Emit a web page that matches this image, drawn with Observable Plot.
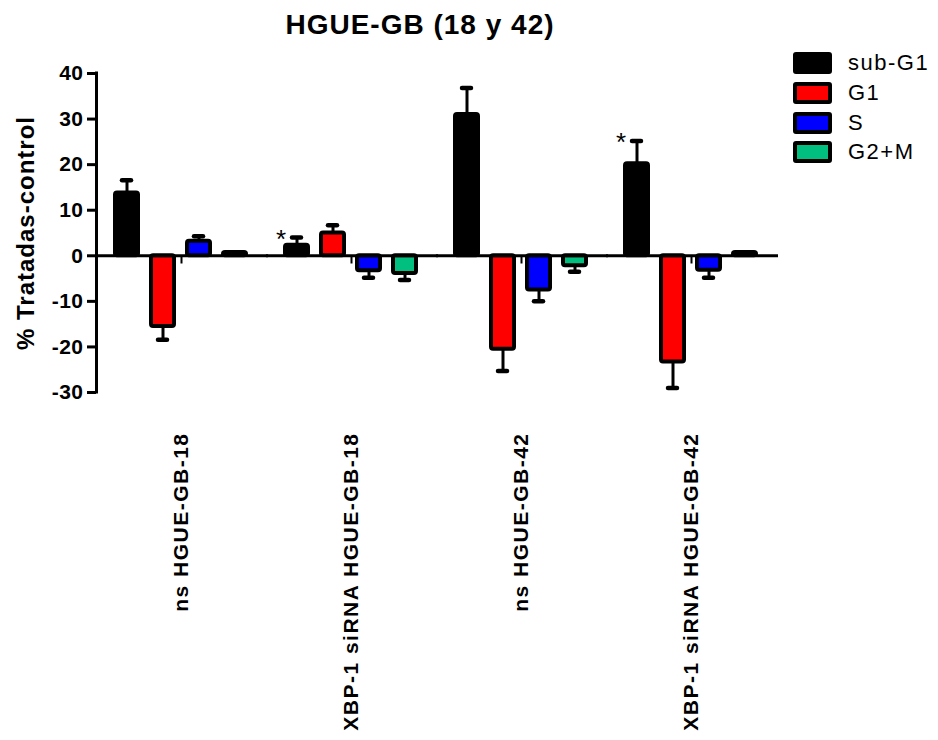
<!DOCTYPE html>
<html>
<head>
<meta charset="utf-8">
<script src="https://cdn.jsdelivr.net/npm/d3@7"></script>
<script src="https://cdn.jsdelivr.net/npm/@observablehq/plot@0.6"></script>
<style>
  html, body { margin: 0; padding: 0; background: #fff; }
  body { width: 938px; height: 740px; overflow: hidden; position: relative; font-family: "Liberation Sans", Arial, sans-serif; }
  #chart { position: absolute; left: 0; top: 0; }
  #title { position: absolute; left: 0; width: 840px; top: 9px; text-align: center; font-size: 28px; font-weight: bold; letter-spacing: 1px; color: #000; }
  #ylabel { position: absolute; left: 26px; top: 233px; transform: translate(-50%, -50%) rotate(-90deg); white-space: nowrap; font-size: 24px; font-weight: bold; letter-spacing: 1px; color: #000; }
  #legend { position: absolute; left: 793px; top: 45px; }
  .item { display: flex; align-items: center; height: 36.7px; margin-top: -7px; }
  .item:first-child { margin-top: 0; }
  .sw { width: 31px; height: 14px; border: 4px solid #000; border-radius: 3px; box-sizing: content-box; }
  .lab { margin-left: 16px; font-size: 22px; letter-spacing: 1.5px; color: #000; }
  svg text { font-family: "Liberation Sans", Arial, sans-serif; }
  g[aria-label="fx-axis tick label"] text { letter-spacing: 1.5px; }
  g[aria-label="y-axis tick label"] text { letter-spacing: 0.5px; }
</style>
</head>
<body>
<div id="chart"></div>
<div id="title">HGUE-GB (18 y 42)</div>
<div id="ylabel">% Tratadas-control</div>
<div id="legend"></div>
<script>
// ---- data ----
const groups = ["ns HGUE-GB-18", "XBP-1 siRNA HGUE-GB-18", "ns HGUE-GB-42", "XBP-1 siRNA HGUE-GB-42"];
const phases = ["sub-G1", "G1", "S", "G2+M"];
const phaseColors = ["#000000", "#ff0000", "#0000ff", "#00bf7f"];
const subG1 = [13.8, 2.3, 31.0, 20.2];
const g1 = [-15.5, 5.0, -20.5, -23.3];
const sPhase = [3.2, -3.3, -7.5, -3.2];
const g2m = [0.7, -3.9, -2.2, 0.7];
const subG1Sem = [2.8, 1.7, 5.8, 5.0];
const g1Sem = [2.9, 1.7, 4.8, 5.7];
const sSem = [1.1, 1.5, 2.5, 1.6];
const g2mSem = [0, 1.4, 1.3, 0];
const yTicks = [-30, -20, -10, 0, 10, 20, 30, 40];
const starred = [["XBP-1 siRNA HGUE-GB-18", "sub-G1"], ["XBP-1 siRNA HGUE-GB-42", "sub-G1"]];

// ---- build table ----
const series = [[subG1, subG1Sem], [g1, g1Sem], [sPhase, sSem], [g2m, g2mSem]];
const rows = [];
groups.forEach((g, gi) => {
  phases.forEach((p, pi) => {
    const v = series[pi][0][gi], e = series[pi][1][gi];
    rows.push({group: g, phase: p, value: v, sem: e, end: v >= 0 ? v + e : v - e});
  });
});
const errRows = rows.filter(d => d.sem > 0);
const starRows = starred.map(([g, p]) => rows.find(d => d.group === g && d.phase === p));

const W = 938, H = 740, ML = 95, MR = 162, MT = 73, MB = 348;

const chart = Plot.plot({
  width: W,
  height: H,
  marginLeft: ML,
  marginRight: MR,
  marginTop: MT,
  marginBottom: MB,
  style: {fontFamily: "Liberation Sans, Arial, sans-serif", color: "#000", background: "transparent", overflow: "visible"},
  fx: {domain: groups, padding: 0, axis: null},
  x: {domain: phases, paddingInner: 0.356, paddingOuter: 0.5, axis: null},
  y: {domain: [-30, 40], axis: null},
  color: {domain: phases, range: phaseColors},
  marks: [
    Plot.barY(rows, {fx: "group", x: "phase", y: "value", fill: "phase", stroke: "#000", strokeWidth: 4, rx: 2}),
    Plot.ruleX(errRows, {fx: "group", x: "phase", y1: "value", y2: "end", stroke: "#000", strokeWidth: 3}),
    Plot.tickY(errRows, {fx: "group", x: "phase", y: "end", stroke: "#000", strokeWidth: 4.5, strokeLinecap: "round", insetLeft: 7, insetRight: 7}),
    Plot.ruleY([0], {stroke: "#000", strokeWidth: 3, insetRight: -2}),
    Plot.ruleX(groups, {fx: d => d, x: null, y1: 0, y2: -1.8, stroke: "#000", strokeWidth: 2}),
    Plot.text(starRows, {fx: "group", x: "phase", y: "end", text: () => "*", dx: -16, dy: 2, fontSize: 26, fill: "#000"}),
    Plot.axisY({anchor: "left", ticks: yTicks, tickFormat: d => String(d), tickSize: 9, tickPadding: 4, strokeWidth: 3, fontSize: 21, fontWeight: "bold", label: null}),
    Plot.axisFx({anchor: "bottom", tickRotate: -90, tickSize: 0, tickPadding: 40, fontSize: 21, fontWeight: "bold", label: null})
  ]
});
document.getElementById("chart").appendChild(chart);

// y axis line drawn from the library's y scale
const ys = chart.scale("y");
d3.select(chart).append("line")
  .attr("x1", ML + 1.5).attr("x2", ML + 1.5)
  .attr("y1", ys.apply(40)).attr("y2", ys.apply(-30))
  .attr("stroke", "#000").attr("stroke-width", 3).attr("stroke-linecap", "square");

// legend
const leg = d3.select("#legend");
phases.forEach((p, i) => {
  const it = leg.append("div").attr("class", "item");
  it.append("div").attr("class", "sw").style("background", phaseColors[i]);
  it.append("div").attr("class", "lab").text(p);
});
</script>
</body>
</html>
